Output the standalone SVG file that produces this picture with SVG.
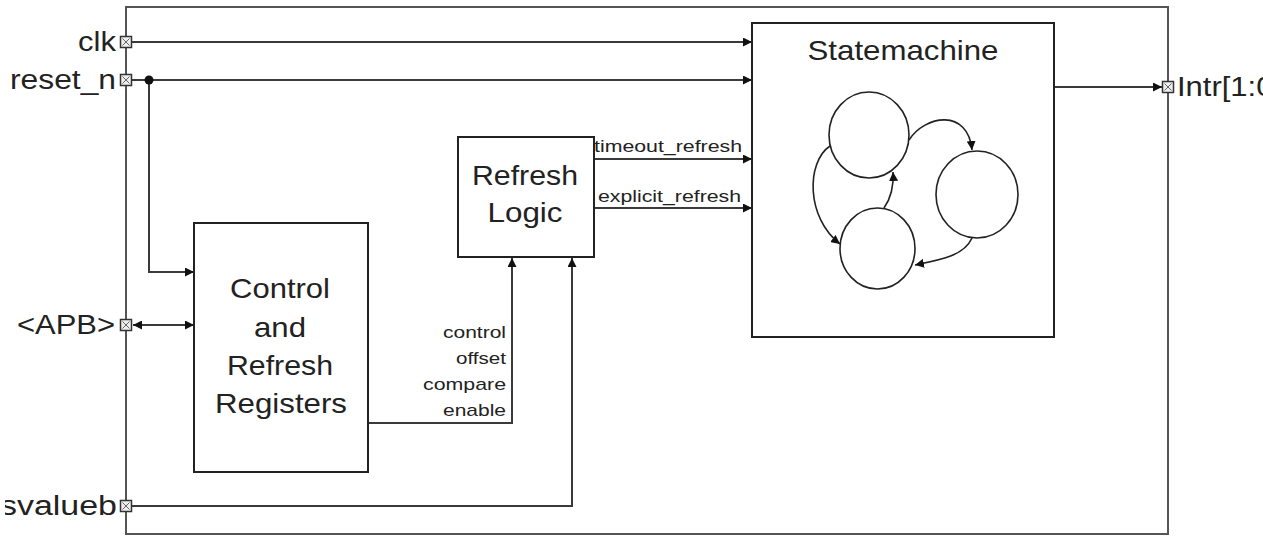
<svg xmlns="http://www.w3.org/2000/svg" xmlns:xlink="http://www.w3.org/1999/xlink" width="1263" height="536" viewBox="0 0 1263 536">
  <style>
    .frame { fill: none; stroke: #555; stroke-width: 2; }
    .box { fill: #fff; stroke: #222; stroke-width: 2; }
    .wire { fill: none; stroke: #3a3a3a; stroke-width: 2; }
    .state { fill: #fff; stroke: #222; stroke-width: 1.6; }
    .trans { fill: none; stroke: #222; stroke-width: 1.6; }
    .port-label { font-family: "Liberation Sans", Arial, sans-serif; font-size: 27px; fill: #222; }
    .block-label { font-family: "Liberation Sans", Arial, sans-serif; font-size: 28px; fill: #222; text-anchor: middle; }
    .sig-label { font-family: "Liberation Sans", Arial, sans-serif; font-size: 17px; fill: #222; }
  </style>
  <defs>
    <marker id="arrow" viewBox="0 0 10 10" refX="10" refY="5" markerUnits="userSpaceOnUse" markerWidth="9" markerHeight="9" orient="auto">
      <path d="M0,0 L10,5 L0,10 z" fill="#111"/>
    </marker>
    <marker id="arrow-start" viewBox="0 0 10 10" refX="0" refY="5" markerUnits="userSpaceOnUse" markerWidth="9" markerHeight="9" orient="auto">
      <path d="M10,0 L0,5 L10,10 z" fill="#111"/>
    </marker>
    <marker id="arrow-small" viewBox="0 0 10 10" refX="10" refY="5" markerUnits="userSpaceOnUse" markerWidth="9" markerHeight="9" orient="auto">
      <path d="M0,0 L10,5 L0,10 z" fill="#111"/>
    </marker>
    <!-- boundary port glyph: small boxed cross -->
    <g id="port">
      <rect x="-5.5" y="-5.5" width="11" height="11" fill="#eee" stroke="#333" stroke-width="1.5"/>
      <path d="M-3.5,-3.5 L3.5,3.5 M3.5,-3.5 L-3.5,3.5" stroke="#666" stroke-width="1"/>
    </g>
    <!-- left label area is trimmed a few pixels in from the edge -->
    <clipPath id="label-clip">
      <rect x="5" y="0" width="1258" height="536"/>
    </clipPath>
  </defs>

  <rect width="1263" height="536" fill="#fff"/>

  <!-- module boundary -->
  <rect id="module-frame" class="frame" x="126" y="7" width="1042" height="527"/>

  <!-- connectors -->
  <g id="connectors">
    <line class="wire" x1="132" y1="42" x2="752" y2="42" marker-end="url(#arrow)"/>
    <line class="wire" x1="132" y1="80" x2="752" y2="80" marker-end="url(#arrow)"/>
    <polyline class="wire" points="149,80 149,272 194,272" marker-end="url(#arrow)"/>
    <circle cx="149" cy="80" r="4.5" fill="#111"/>
    <line class="wire" x1="133" y1="325" x2="194" y2="325" marker-start="url(#arrow-start)" marker-end="url(#arrow)"/>
    <polyline class="wire" points="368,423 512,423 512,258" marker-end="url(#arrow)"/>
    <polyline class="wire" points="132,506 572,506 572,258" marker-end="url(#arrow)"/>
    <line class="wire" x1="594" y1="159" x2="752" y2="159" marker-end="url(#arrow)"/>
    <line class="wire" x1="594" y1="208" x2="752" y2="208" marker-end="url(#arrow)"/>
    <line class="wire" x1="1054" y1="87" x2="1162" y2="87" marker-end="url(#arrow)"/>
    <text class="sig-label" x="742" y="152" text-anchor="end" textLength="148" lengthAdjust="spacingAndGlyphs">timeout_refresh</text>
    <text class="sig-label" x="741" y="202" text-anchor="end" textLength="143" lengthAdjust="spacingAndGlyphs">explicit_refresh</text>
    <text class="sig-label" x="506" y="338" text-anchor="end" textLength="63" lengthAdjust="spacingAndGlyphs">control</text>
    <text class="sig-label" x="506" y="364" text-anchor="end" textLength="50" lengthAdjust="spacingAndGlyphs">offset</text>
    <text class="sig-label" x="506" y="390" text-anchor="end" textLength="83" lengthAdjust="spacingAndGlyphs">compare</text>
    <text class="sig-label" x="506" y="416" text-anchor="end" textLength="63" lengthAdjust="spacingAndGlyphs">enable</text>
  </g>

  <!-- ports -->
  <g id="port-clk">
    <use xlink:href="#port" x="126" y="42"/>
    <text class="port-label" x="116" y="51" text-anchor="end" textLength="38" lengthAdjust="spacingAndGlyphs">clk</text>
  </g>
  <g id="port-reset_n">
    <use xlink:href="#port" x="126" y="80"/>
    <text class="port-label" x="116" y="89" text-anchor="end" textLength="106" lengthAdjust="spacingAndGlyphs">reset_n</text>
  </g>
  <g id="port-apb">
    <use xlink:href="#port" x="126" y="325"/>
    <text class="port-label" x="115" y="334" text-anchor="end" textLength="98" lengthAdjust="spacingAndGlyphs">&lt;APB&gt;</text>
  </g>
  <g id="port-svalueb">
    <use xlink:href="#port" x="126" y="506"/>
    <text class="port-label" x="117" y="515" text-anchor="end" textLength="117" lengthAdjust="spacingAndGlyphs" clip-path="url(#label-clip)">svalueb</text>
  </g>
  <g id="port-intr">
    <use xlink:href="#port" x="1168" y="87"/>
    <text class="port-label" x="1177" y="96" textLength="105" lengthAdjust="spacingAndGlyphs">Intr[1:0]</text>
  </g>

  <!-- register block -->
  <g id="control-registers">
    <rect class="box" x="194" y="223" width="174" height="249"/>
    <text class="block-label" x="280" y="298" textLength="100" lengthAdjust="spacingAndGlyphs">Control</text>
    <text class="block-label" x="280" y="337" textLength="52" lengthAdjust="spacingAndGlyphs">and</text>
    <text class="block-label" x="280" y="375" textLength="106" lengthAdjust="spacingAndGlyphs">Refresh</text>
    <text class="block-label" x="281" y="413" textLength="132" lengthAdjust="spacingAndGlyphs">Registers</text>
  </g>

  <!-- refresh logic -->
  <g id="refresh-logic">
    <rect class="box" x="458" y="137" width="136" height="120"/>
    <text class="block-label" x="525" y="185" textLength="106" lengthAdjust="spacingAndGlyphs">Refresh</text>
    <text class="block-label" x="525" y="222" textLength="75" lengthAdjust="spacingAndGlyphs">Logic</text>
  </g>

  <!-- state machine -->
  <g id="statemachine">
    <rect class="box" x="752" y="23" width="302" height="314"/>
    <text class="block-label" x="903" y="60" textLength="191" lengthAdjust="spacingAndGlyphs">Statemachine</text>
    <ellipse class="state" cx="869" cy="135" rx="40" ry="43"/>
    <ellipse class="state" cx="977" cy="194.5" rx="41" ry="43.5"/>
    <ellipse class="state" cx="877.5" cy="248.5" rx="37.5" ry="40.5"/>
    <path class="trans" d="M909,140 C925,115 968,108 972,150" marker-end="url(#arrow-small)"/>
    <path class="trans" d="M884,208 C891,198 894,188 893,172" marker-end="url(#arrow-small)"/>
    <path class="trans" d="M830,146 C806,162 806,218 840,244" marker-end="url(#arrow-small)"/>
    <path class="trans" d="M972,238 C964,256 940,260 915,265" marker-end="url(#arrow-small)"/>
  </g>
</svg>
